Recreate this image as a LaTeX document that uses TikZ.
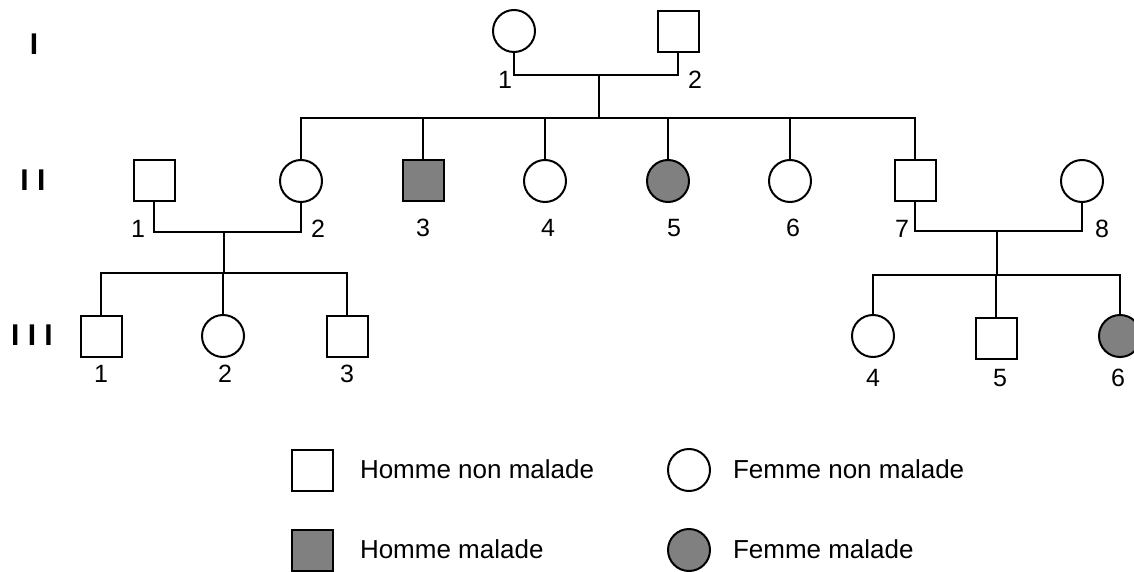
\documentclass[tikz,border=0pt]{standalone}
\usepackage{fontspec}
\setmainfont{Liberation Sans}
\definecolor{sick}{HTML}{808080}
\begin{document}
\begin{tikzpicture}[x=0.5pt,y=-0.5pt,line width=1pt,
  every node/.style={font=\fontsize{12.5}{14}\selectfont},
  male/.style={draw,rectangle,minimum size=20.5pt,inner sep=0pt,fill=white},
  female/.style={draw,circle,minimum size=21pt,inner sep=0pt,fill=white},
  ill/.style={fill=sick},
  lbl/.style={inner sep=0pt},
  gen/.style={inner sep=0pt,font=\fontsize{15}{17}\bfseries\selectfont},
  legt/.style={anchor=west,inner sep=0pt,font=\fontsize{13}{15}\selectfont}]
\useasboundingbox (0,0) rectangle (1134,572);
% generation labels
\node[gen] (gI) at (34,44) {I};
\node[gen] (gII) at (33,180) {I I};
\node[gen] (gIII) at (32,335) {I I I};
% generation I
\node[female] (I1) at (514,31) {};
\node[male] (I2) at (678,32) {};
\node[lbl] (lI1) at (505,80) {1};
\node[lbl] (lI2) at (695,80) {2};
\coordinate (m1) at (599,75);
\coordinate (s1) at (599,118);
\draw (I1.south) |- (m1) -| (I2.south);
\draw (m1) -- (s1);
% generation II
\node[male] (II1) at (154,181) {};
\node[female] (II2) at (301,181) {};
\node[male,ill] (II3) at (423,181) {};
\node[female] (II4) at (545,181) {};
\node[female,ill] (II5) at (668,181) {};
\node[female] (II6) at (790,181) {};
\node[male] (II7) at (915,181) {};
\node[female] (II8) at (1082,181) {};
\node[lbl] (lII1) at (138,229) {1};
\node[lbl] (lII2) at (318,229) {2};
\node[lbl] (lII3) at (423,228) {3};
\node[lbl] (lII4) at (548,228) {4};
\node[lbl] (lII5) at (674,228) {5};
\node[lbl] (lII6) at (793,228) {6};
\node[lbl] (lII7) at (902,229) {7};
\node[lbl] (lII8) at (1102,229) {8};
\draw (II2.north) |- (s1) -| (II7.north);
\foreach \n in {II3,II4,II5,II6} \draw (\n.north) -- (\n.north |- s1);
\coordinate (m2) at (224,232);
\coordinate (s2) at (224,273);
\draw (II1.south) |- (m2) -| (II2.south);
\draw (m2) -- (s2);
\coordinate (m3) at (997,231);
\coordinate (s3) at (997,275);
\draw (II7.south) |- (m3) -| (II8.south);
\draw (m3) -- (s3);
% generation III
\node[male] (III1) at (101,336) {};
\node[female] (III2) at (223,336) {};
\node[male] (III3) at (347,336) {};
\node[female] (III4) at (873,336) {};
\node[male] (III5) at (996,338) {};
\node[female,ill] (III6) at (1120,336) {};
\node[lbl] (lIII1) at (101,374) {1};
\node[lbl] (lIII2) at (225,374) {2};
\node[lbl] (lIII3) at (347,374) {3};
\node[lbl] (lIII4) at (873,378) {4};
\node[lbl] (lIII5) at (1000,378) {5};
\node[lbl] (lIII6) at (1118,378) {6};
\draw (III1.north) |- (s2) -| (III3.north);
\draw (III2.north) -- (III2.north |- s2);
\draw (III4.north) |- (s3) -| (III6.north);
\draw (III5.north) -- (III5.north |- s3);
% legend
\node[male] (L1) at (312,470) {};
\node[legt] (T1) at (359,469) {Homme non malade};
\node[female] (L2) at (689,470) {};
\node[legt] (T2) at (732,469) {Femme non malade};
\node[male,ill] (L3) at (312,550) {};
\node[legt] (T3) at (359,549) {Homme malade};
\node[female,ill] (L4) at (689,550) {};
\node[legt] (T4) at (732,549) {Femme malade};
\end{tikzpicture}
\end{document}
